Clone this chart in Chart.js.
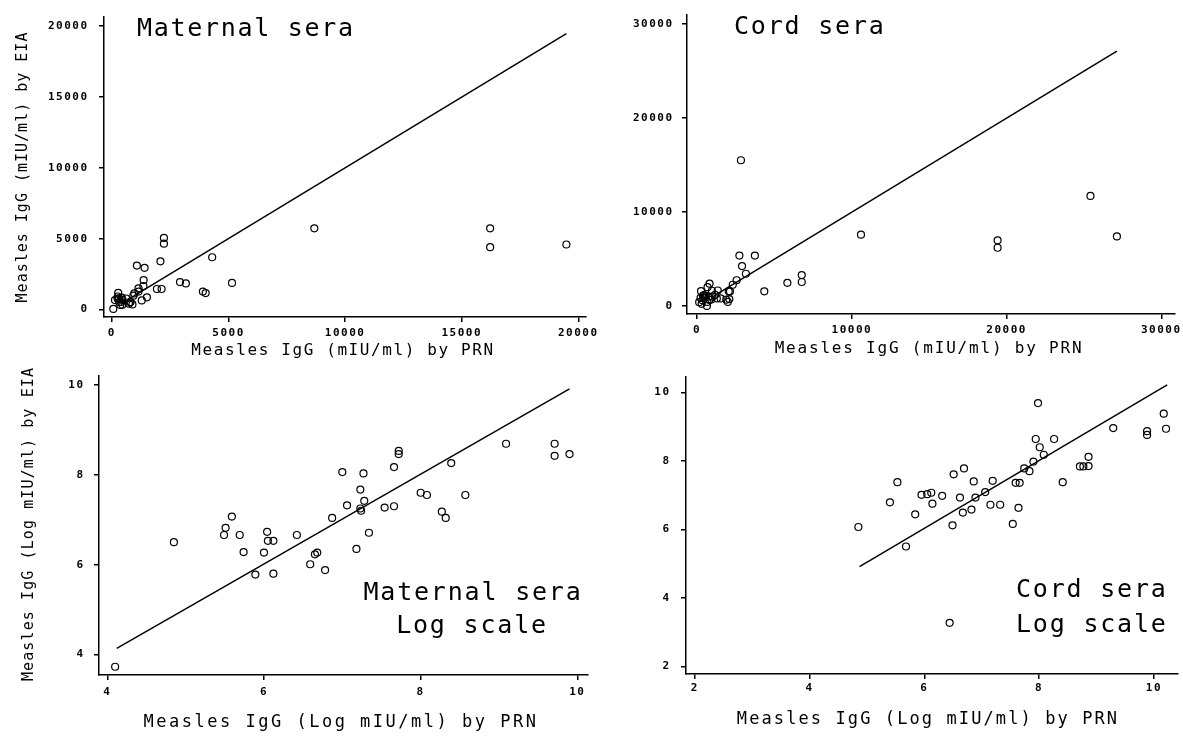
<!DOCTYPE html>
<html>
<head>
<meta charset="utf-8">
<script src="https://cdn.jsdelivr.net/npm/chart.js@4.4.1/dist/chart.umd.min.js"></script>
<style>
  html, body { margin: 0; padding: 0; background: #fff; }
  body { width: 1183px; height: 736px; position: relative; overflow: hidden; }
  .panel { position: absolute; }
</style>
</head>
<body>
<div class="panel" style="left:0;top:0"><canvas id="c1" width="600" height="360"></canvas></div>
<div class="panel" style="left:600px;top:0"><canvas id="c2" width="583" height="360"></canvas></div>
<div class="panel" style="left:0;top:360px"><canvas id="c3" width="600" height="376"></canvas></div>
<div class="panel" style="left:600px;top:360px"><canvas id="c4" width="583" height="376"></canvas></div>
<script>
// Maternal sera, measles IgG (mIU/ml): PRN vs EIA
const maternalPRN = [8680, 16220, 16220, 19490, 4300, 5150, 2230, 2230, 2080, 1070, 1400, 1360, 1350, 1140,
  2920, 3170, 3900, 4020, 1930, 2130, 1500, 1280, 920, 1140,
  60, 130, 240, 250, 270, 300, 310, 360, 400, 420, 420, 450, 450, 610, 730, 770, 800, 880, 960];
const maternalEIA = [5730, 5730, 4400, 4590, 3690, 1880, 5050, 4650, 3400, 3100, 2940, 2080, 1660, 1500,
  1940, 1840, 1270, 1160, 1450, 1450, 860, 640, 980, 1270,
  40, 670, 780, 920, 1180, 780, 530, 320, 530, 840, 690, 690, 330, 780, 410, 510, 530, 360, 1140];
const maternalLinePRN = [400, 19490];
const maternalLineEIA = [420, 19470];

// Cord sera, measles IgG (mIU/ml)
const cordPRN = [2830, 25420, 27130, 10590, 19420, 19420, 2730, 3730, 2900, 3150, 6760, 6760, 5830, 4340,
  2550, 2300, 2040, 1880, 1980,
  130, 220, 250, 290, 340, 380, 420, 450, 460, 550, 660, 670, 630, 750, 800, 790, 920, 950, 980,
  1160, 1270, 1510, 1330, 2120, 2080];
const cordEIA = [15510, 11720, 7410, 7600, 7000, 6210, 5380, 5380, 4260, 3450, 3310, 2570, 2480, 1580,
  2760, 2280, 1580, 690, 450,
  430, 890, 1600, 250, 630, 1110, 1130, 1180, 850, 1080, 460, 2020, 30, 1020, 2390, 660, 720, 1640, 1020,
  1200, 830, 830, 1670, 1570, 760];
const cordLinePRN = [1300, 27130];
const cordLineEIA = [1300, 27100];

// Log scale (log mIU/ml)
const maternalLogPRN = [4.10, 4.85, 5.49, 5.51, 5.59, 5.69, 5.74, 5.89, 6.00, 6.04, 6.05, 6.12, 6.12, 6.42, 6.59,
  6.65, 6.68, 6.78, 6.87, 7.00, 7.06, 7.18, 7.23, 7.24, 7.23, 7.27, 7.28, 7.34, 7.54, 7.66,
  7.66, 7.72, 7.72, 8.00, 8.08, 8.27, 8.32, 8.39, 8.57, 9.09, 9.71, 9.71, 9.90];
const maternalLogEIA = [3.73, 6.50, 6.66, 6.82, 7.07, 6.66, 6.28, 5.78, 6.27, 6.73, 6.53, 6.53, 5.80, 6.66, 6.01,
  6.23, 6.27, 5.88, 7.04, 8.06, 7.32, 6.35, 7.25, 7.20, 7.67, 8.03, 7.42, 6.71, 7.27, 7.30,
  8.17, 8.53, 8.46, 7.60, 7.55, 7.18, 7.04, 8.26, 7.55, 8.69, 8.69, 8.42, 8.46];
const maternalLogLinePRN = [4.12, 9.90];
const maternalLogLineEIA = [4.14, 9.91];

const cordLogPRN = [4.85, 5.40, 5.53, 5.68, 5.84, 5.95, 6.05, 6.12, 6.14, 6.31, 6.49, 6.51, 6.44, 6.62, 6.69,
  6.67, 6.82, 6.86, 6.89, 7.06, 7.15, 7.32, 7.19, 7.54, 7.59, 7.66, 7.64, 7.74, 7.83, 7.90,
  7.94, 7.98, 8.01, 8.08, 8.26, 8.41, 8.71, 8.77, 8.86, 8.86, 9.29, 9.88, 9.88, 10.17, 10.21];
const cordLogEIA = [6.07, 6.79, 7.38, 5.50, 6.44, 7.01, 7.03, 7.07, 6.75, 6.98, 6.12, 7.61, 3.27, 6.93, 7.78,
  6.49, 6.58, 7.40, 6.93, 7.09, 6.72, 6.72, 7.42, 6.16, 7.36, 7.36, 6.63, 7.78, 7.70, 7.98,
  8.64, 9.69, 8.40, 8.18, 8.64, 7.38, 7.84, 7.84, 8.12, 7.85, 8.96, 8.87, 8.76, 9.38, 8.94];
const cordLogLinePRN = [4.87, 10.23];
const cordLogLineEIA = [4.91, 10.22];

// tick labels
const maternalTicks = [0, 5000, 10000, 15000, 20000];
const cordTicks = [0, 10000, 20000, 30000];
const maternalLogTicks = [4, 6, 8, 10];
const cordLogTicks = [2, 4, 6, 8, 10];

const MONO = '"DejaVu Sans Mono", monospace';

function pairs(xs, ys) {
  return xs.map((x, i) => ({ x: x, y: ys[i] }));
}

function axis(min, max, ticks, size, pad) {
  return {
    type: 'linear',
    min: min,
    max: max,
    afterBuildTicks: s => { s.ticks = ticks.map(v => ({ value: v })); },
    afterFit: s => { if (s.isHorizontal()) s.height = size; else s.width = size; },
    grid: { drawOnChartArea: false, drawTicks: true, tickLength: 5, color: '#000', lineWidth: 1.5 },
    border: { display: true, color: '#000', width: 1.5 },
    ticks: {
      color: '#000', padding: pad, autoSkip: false, maxRotation: 0,
      font: { family: MONO, size: 11, weight: 'bold' },
      callback: v => String(v)
    }
  };
}

// text labels drawn on the canvas (titles, panel names)
const panelText = {
  id: 'panelText',
  beforeDraw(chart) { chart.ctx.letterSpacing = '1.5px'; },
  afterDraw(chart, args, opts) {
    const ctx = chart.ctx;
    (opts.items || []).forEach(t => {
      ctx.save();
      ctx.fillStyle = '#000';
      ctx.font = t.size + 'px ' + MONO;
      ctx.letterSpacing = (t.spacing || 0) + 'px';
      ctx.textAlign = t.align || 'left';
      ctx.textBaseline = 'alphabetic';
      ctx.translate(t.x, t.y);
      if (t.rotate) ctx.rotate(-Math.PI / 2);
      ctx.fillText(t.text, 0, 0);
      ctx.restore();
    });
  }
};
Chart.register(panelText);

function makePanel(id, xs, ys, lx, ly, xAxis, yAxis, padding, items) {
  return new Chart(document.getElementById(id), {
    type: 'scatter',
    data: {
      datasets: [
        {
          data: pairs(xs, ys),
          pointStyle: 'circle',
          pointRadius: 3.5,
          pointBorderColor: '#000',
          pointBackgroundColor: 'rgba(0,0,0,0)',
          pointBorderWidth: 1.2,
          borderColor: '#000',
          backgroundColor: 'rgba(0,0,0,0)'
        },
        {
          data: pairs(lx, ly),
          showLine: true,
          pointRadius: 0,
          borderColor: '#000',
          borderWidth: 1.5,
          fill: false
        }
      ]
    },
    options: {
      responsive: false,
      animation: false,
      devicePixelRatio: 1,
      layout: { padding: padding },
      plugins: {
        legend: { display: false },
        tooltip: { enabled: false },
        panelText: { items: items }
      },
      scales: { x: xAxis, y: yAxis }
    }
  });
}

makePanel('c1', maternalPRN, maternalEIA, maternalLinePRN, maternalLineEIA,
  axis(-340, 20340, maternalTicks, 43, 5),
  axis(-527, 20637, maternalTicks, 104, 10.5),
  { left: 0, top: 8, right: 10, bottom: 0 },
  [
    { text: 'Maternal sera', x: 137, y: 36, size: 25, spacing: 1.7 },
    { text: 'Measles IgG (mIU/ml) by PRN', x: 343, y: 355, size: 16, spacing: 1.6, align: 'center' },
    { text: 'Measles IgG (mIU/ml) by EIA', x: 27, y: 167, size: 15, spacing: 1, align: 'center', rotate: true }
  ]);

makePanel('c2', cordPRN, cordEIA, cordLinePRN, cordLineEIA,
  axis(-657, 30870, cordTicks, 46, 5),
  axis(-828, 30931, cordTicks, 87, 8.5),
  { left: 0, top: 7, right: 3, bottom: 0 },
  [
    { text: 'Cord sera', x: 134, y: 34, size: 25, spacing: 1.8 },
    { text: 'Measles IgG (mIU/ml) by PRN', x: 329, y: 353, size: 16, spacing: 1.8, align: 'center' }
  ]);

makePanel('c3', maternalLogPRN, maternalLogEIA, maternalLogLinePRN, maternalLogLineEIA,
  axis(3.894, 10.136, maternalLogTicks, 61, 6),
  axis(3.547, 10.194, maternalLogTicks, 99, 9.5),
  { left: 0, top: 7, right: 12, bottom: 0 },
  [
    { text: 'Maternal sera', x: 473, y: 240, size: 25, spacing: 1.8, align: 'center' },
    { text: 'Log scale', x: 472, y: 273, size: 25, spacing: 1.8, align: 'center' },
    { text: 'Measles IgG (Log mIU/ml) by PRN', x: 341, y: 367, size: 17, spacing: 2.5, align: 'center' },
    { text: 'Measles IgG (Log mIU/ml) by EIA', x: 33, y: 164, size: 15, spacing: 1.1, align: 'center', rotate: true }
  ]);

makePanel('c4', cordLogPRN, cordLogEIA, cordLogLinePRN, cordLogLineEIA,
  axis(1.847, 10.415, cordLogTicks, 62, 3),
  axis(1.775, 10.449, cordLogTicks, 86, 10.5),
  { left: 0, top: 5, right: 5, bottom: 0 },
  [
    { text: 'Cord sera', x: 416, y: 237, size: 25, spacing: 1.8 },
    { text: 'Log scale', x: 416, y: 272, size: 25, spacing: 1.8 },
    { text: 'Measles IgG (Log mIU/ml) by PRN', x: 328, y: 364, size: 17, spacing: 2.1, align: 'center' }
  ]);
</script>
</body>
</html>
